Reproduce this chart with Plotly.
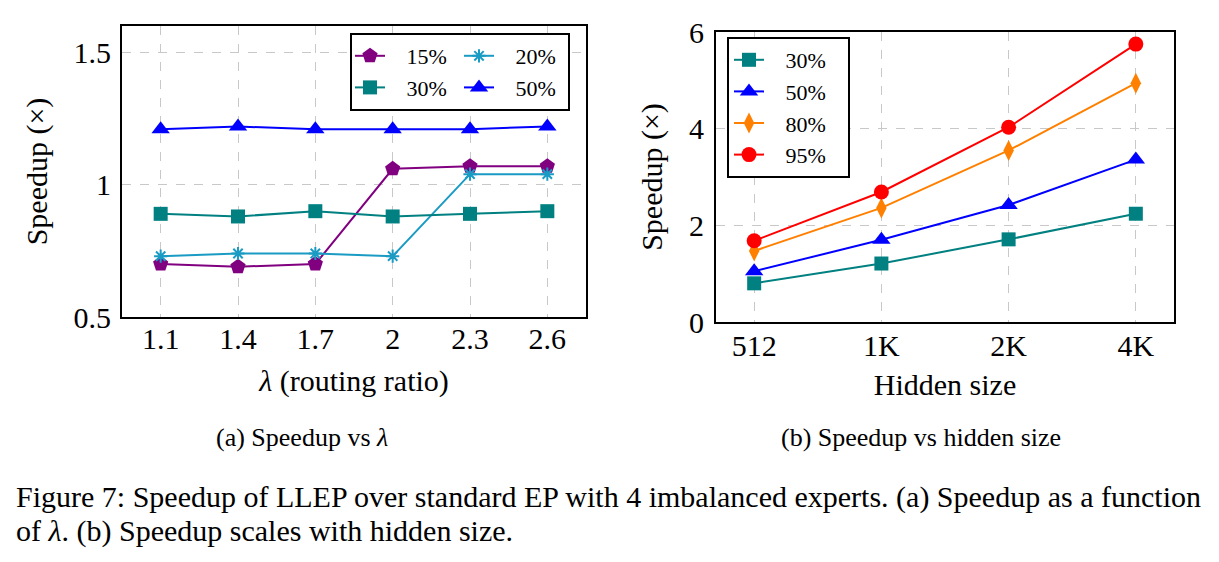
import plotly.graph_objects as go

# ---------------- data ----------------
lam = [1.1, 1.4, 1.7, 2.0, 2.3, 2.6]
lam_ticktext = ["1.1", "1.4", "1.7", "2", "2.3", "2.6"]
speed_15 = [0.70, 0.69, 0.70, 1.06, 1.07, 1.07]
speed_20 = [0.73, 0.74, 0.74, 0.73, 1.04, 1.04]
speed_30_lam = [0.89, 0.88, 0.90, 0.88, 0.89, 0.90]
speed_50_lam = [1.21, 1.22, 1.21, 1.21, 1.21, 1.22]
lam_yticks = [0.5, 1.0, 1.5]
lam_yticktext = ["0.5", "1", "1.5"]

hidden = ["512", "1K", "2K", "4K"]
speed_30_h = [0.80, 1.21, 1.71, 2.24]
speed_50_h = [1.05, 1.70, 2.42, 3.36]
speed_80_h = [1.47, 2.36, 3.55, 4.94]
speed_95_h = [1.68, 2.69, 4.03, 5.75]
h_yticks = [0, 2, 4, 6]

# ---------------- style ----------------
FONT = "Liberation Serif"
W, H = 1219, 562
PURPLE, CYAN, TEAL, BLUE, ORANGE, RED = "#800080", "#1a9bc4", "#008080", "#0000ff", "#ff8000", "#ff0000"
PAD = "\u00a0" * 3  # small gap between legend symbol and text

fig = go.Figure()

def add(x, y, name, color, symbol, size, xa, ya, legend, group=None, mline=None, tail=""):
    marker = dict(symbol=symbol, size=size, color=color)
    if mline:
        marker["line"] = dict(color=color, width=mline)
    fig.add_trace(go.Scatter(
        x=x, y=y, name=PAD + name + tail, mode="lines+markers",
        line=dict(color=color, width=2), marker=marker,
        xaxis=xa, yaxis=ya, legend=legend, legendgroup=group,
    ))

TAIL = "\u00a0" * 3
# left plot
add(lam, speed_15, "15%", PURPLE, "pentagon", 16, "x", "y", "legend", "c1")
add(lam, speed_20, "20%", CYAN, "asterisk-open", 11, "x", "y", "legend", "c2", mline=2)
add(lam, speed_30_lam, "30%", TEAL, "square", 14, "x", "y", "legend", "c1")
add(lam, speed_50_lam, "50%", BLUE, "triangle-up", 16, "x", "y", "legend", "c2")
# right plot
add(hidden, speed_30_h, "30%", TEAL, "square", 14, "x2", "y2", "legend2", tail=TAIL)
add(hidden, speed_50_h, "50%", BLUE, "triangle-up", 16, "x2", "y2", "legend2", tail=TAIL)
add(hidden, speed_80_h, "80%", ORANGE, "diamond-tall", 15, "x2", "y2", "legend2", tail=TAIL)
add(hidden, speed_95_h, "95%", RED, "circle", 15, "x2", "y2", "legend2", tail=TAIL)

TICKFONT = dict(family=FONT, size=30, color="black")
TITLEFONT = dict(family=FONT, size=30, color="black")

axis_common = dict(
    showline=True, mirror=True, linecolor="black", linewidth=2,
    showgrid=True, gridcolor="#c8c8c8", gridwidth=1, griddash="dash",
    zeroline=False, ticks="", tickfont=TICKFONT, automargin=False,
)

def px(x):
    return x / W

def py(y):
    return 1 - y / H

fig.update_layout(
    width=W, height=H,
    margin=dict(l=0, r=0, t=0, b=0, autoexpand=False),
    paper_bgcolor="white", plot_bgcolor="white",
    font=dict(family=FONT, color="black"),
    xaxis=dict(axis_common, domain=[px(122), px(586)], range=[0.95, 2.75],
               tickvals=lam, ticktext=lam_ticktext, anchor="y",
               title=dict(text="<i>λ</i> (routing ratio)", standoff=16, font=TITLEFONT),
               ticklabelstandoff=-6),
    yaxis=dict(axis_common, domain=[py(317), py(26)], range=[0.5, 1.6],
               tickvals=lam_yticks, ticktext=lam_yticktext, anchor="x",
               title=dict(text="Speedup (×)", standoff=17, font=TITLEFONT),
               ticklabelstandoff=3),
    xaxis2=dict(axis_common, domain=[px(716), px(1174)], range=[-0.3, 3.3],
                type="category", anchor="y2",
                title=dict(text="Hidden size", standoff=13, font=TITLEFONT),
                ticklabelstandoff=-4),
    yaxis2=dict(axis_common, domain=[py(322), py(32)], range=[0, 6],
                tickvals=h_yticks, anchor="x2",
                title=dict(text="Speedup (×)", standoff=18, font=TITLEFONT),
                ticklabelstandoff=4),
    legend=dict(
        x=px(350), y=py(33), xanchor="left", yanchor="top", xref="paper", yref="paper",
        orientation="h", traceorder="grouped", bgcolor="white",
        bordercolor="black", borderwidth=2, font=dict(family=FONT, size=22, color="black"),
        tracegroupgap=4, entrywidth=64, entrywidthmode="pixels",
    ),
    legend2=dict(
        x=px(727), y=py(37), xanchor="left", yanchor="top", xref="paper", yref="paper",
        orientation="v", bgcolor="white",
        bordercolor="black", borderwidth=2, font=dict(family=FONT, size=22, color="black"),
    ),
    showlegend=True,
)

annotations = [
    dict(text="(a) Speedup vs <i>λ</i>", x=px(302), y=py(437), size=26, anchor="center"),
    dict(text="(b) Speedup vs hidden size", x=px(921), y=py(437), size=26, anchor="center"),
    dict(text="Figure 7: Speedup of LLEP over standard EP with 4 imbalanced experts. (a) Speedup as a function",
         x=px(14), y=py(497), size=30, anchor="left"),
    dict(text="of <i>λ</i>. (b) Speedup scales with hidden size.",
         x=px(14), y=py(531), size=30, anchor="left"),
]
for a in annotations:
    fig.add_annotation(
        text=a["text"], x=a["x"], y=a["y"], xref="paper", yref="paper",
        xanchor=a["anchor"], yanchor="middle", showarrow=False,
        font=dict(family=FONT, size=a["size"], color="black"),
    )

fig.write_html("out.html")
